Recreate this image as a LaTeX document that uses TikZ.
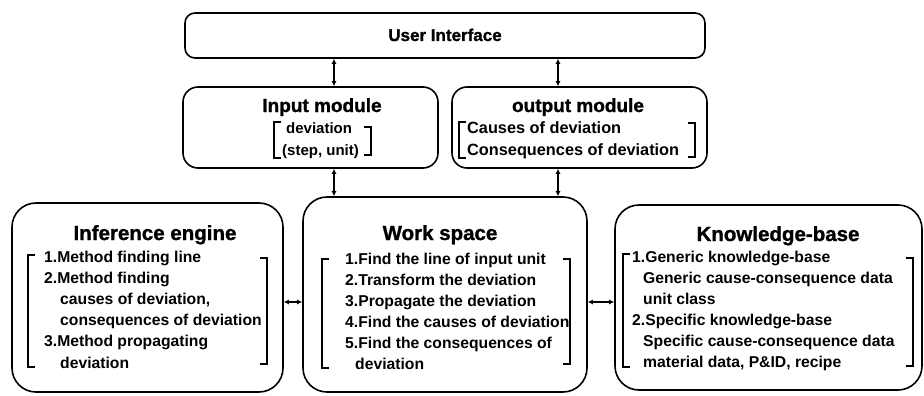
\documentclass[tikz,border=0pt]{standalone}
\usepackage{fontspec}
\setmainfont{Liberation Sans}
\newfontfamily\heavyfont[FakeBold=1.2]{Liberation Sans Bold}
\usetikzlibrary{arrows.meta}
\begin{document}
\begin{tikzpicture}[x=1pt,y=-1pt,
  box/.style={draw, line width=1.6pt, rounded corners=#1, inner sep=0pt},
  bigtitle/.style={anchor=base, inner sep=0pt, font=\fontsize{20.5}{24}\heavyfont},
  modtitle/.style={anchor=base, inner sep=0pt, font=\fontsize{19}{22}\heavyfont},
  uititle/.style={anchor=base, inner sep=0pt, font=\fontsize{17}{20}\heavyfont},
  item/.style={anchor=base west, inner sep=0pt, font=\fontsize{15.7}{21}\selectfont\bfseries},
  oitem/.style={anchor=base west, inner sep=0pt, font=\fontsize{16.3}{21}\selectfont\bfseries},
  iitem/.style={anchor=base west, inner sep=0pt, font=\fontsize{15}{18}\selectfont\bfseries},
  brk/.style={line width=1.3pt},
  conn/.style={line width=1.6pt, {Latex[length=5pt,width=5pt]}-{Latex[length=5pt,width=5pt]}}]
\useasboundingbox (0,0) rectangle (924,396);
\fill[white] (0,0) rectangle (924,396);

% boxes
\node[box=10, minimum width=520pt, minimum height=45pt] (ui) at (445,35.5) {};
\node[box=15, minimum width=255pt, minimum height=81pt] (im) at (310.5,127.5) {};
\node[box=15, minimum width=255pt, minimum height=81pt] (om) at (579.5,127.5) {};
\node[box=24, minimum width=271pt, minimum height=189pt] (ie) at (147.5,297.5) {};
\node[box=24, minimum width=284pt, minimum height=195pt] (ws) at (445,294.5) {};
\node[box=24, minimum width=307pt, minimum height=185pt] (kb) at (768.5,297.5) {};

% titles
\node[uititle] (uit) at (445,41) {User Interface};
\node[modtitle] (imt) at (322,112) {Input module};
\node[modtitle] (omt) at (578,112) {output module};
\node[bigtitle] (iet) at (155,240) {Inference engine};
\node[bigtitle] (wst) at (440,240) {Work space};
\node[bigtitle] (kbt) at (778,241) {Knowledge-base};

% input module contents
\node[iitem] (im1) at (286,133) {deviation};
\node[iitem] (im2) at (282,155) {(step, unit)};
\draw[brk] (281,122) -- (274,122) -- (274,158) -- (281,158);
\draw[brk] (364,127) -- (371,127) -- (371,155) -- (364,155);

% output module contents
\node[oitem] (om1) at (467,133) {Causes of deviation};
\node[oitem] (om2) at (467,155) {Consequences of deviation};
\draw[brk] (466,122) -- (459,122) -- (459,158) -- (466,158);
\draw[brk] (688,123) -- (695,123) -- (695,157) -- (688,157);

% inference engine contents
\node[item] (ie1) at (44,262) {1.Method finding line};
\node[item] (ie2) at (44,283.2) {2.Method finding};
\node[item] (ie3) at (60,304.4) {causes of deviation,};
\node[item] (ie4) at (60,325.6) {consequences of deviation};
\node[item] (ie5) at (44,346.8) {3.Method propagating};
\node[item] (ie6) at (60,368) {deviation};
\draw[brk] (35,255) -- (28,255) -- (28,367) -- (35,367);
\draw[brk] (260,258) -- (267,258) -- (267,364) -- (260,364);

% work space contents
\node[item] (ws1) at (345,264) {1.Find the line of input unit};
\node[item] (ws2) at (345,285) {2.Transform the deviation};
\node[item] (ws3) at (345,306) {3.Propagate the deviation};
\node[item] (ws4) at (345,327) {4.Find the causes of deviation};
\node[item] (ws5) at (345,348) {5.Find the consequences of};
\node[item] (ws6) at (355,369) {deviation};
\draw[brk] (329,259) -- (322,259) -- (322,368) -- (329,368);
\draw[brk] (563,259) -- (570,259) -- (570,364) -- (563,364);

% knowledge-base contents
\node[item] (kb1) at (632,262) {1.Generic knowledge-base};
\node[item] (kb2) at (643,283) {Generic cause-consequence data};
\node[item] (kb3) at (643,304) {unit class};
\node[item] (kb4) at (632,325) {2.Specific knowledge-base};
\node[item] (kb5) at (643,346) {Specific cause-consequence data};
\node[item] (kb6) at (643,367) {material data, P\&ID, recipe};
\draw[brk] (630,254) -- (623,254) -- (623,367) -- (630,367);
\draw[brk] (906,258) -- (913,258) -- (913,366) -- (906,366);

% connectors
\coordinate (cl) at (334,0);
\coordinate (cr) at (558,0);
\coordinate (ch) at (0,302);
\draw[conn] (ui.south -| cl) -- (im.north -| cl);
\draw[conn] (ui.south -| cr) -- (om.north -| cr);
\draw[conn] (im.south -| cl) -- (ws.north -| cl);
\draw[conn] (om.south -| cr) -- (ws.north -| cr);
\draw[conn] (ie.east |- ch) -- (ws.west |- ch);
\draw[conn] (ws.east |- ch) -- (kb.west |- ch);
\end{tikzpicture}
\end{document}
